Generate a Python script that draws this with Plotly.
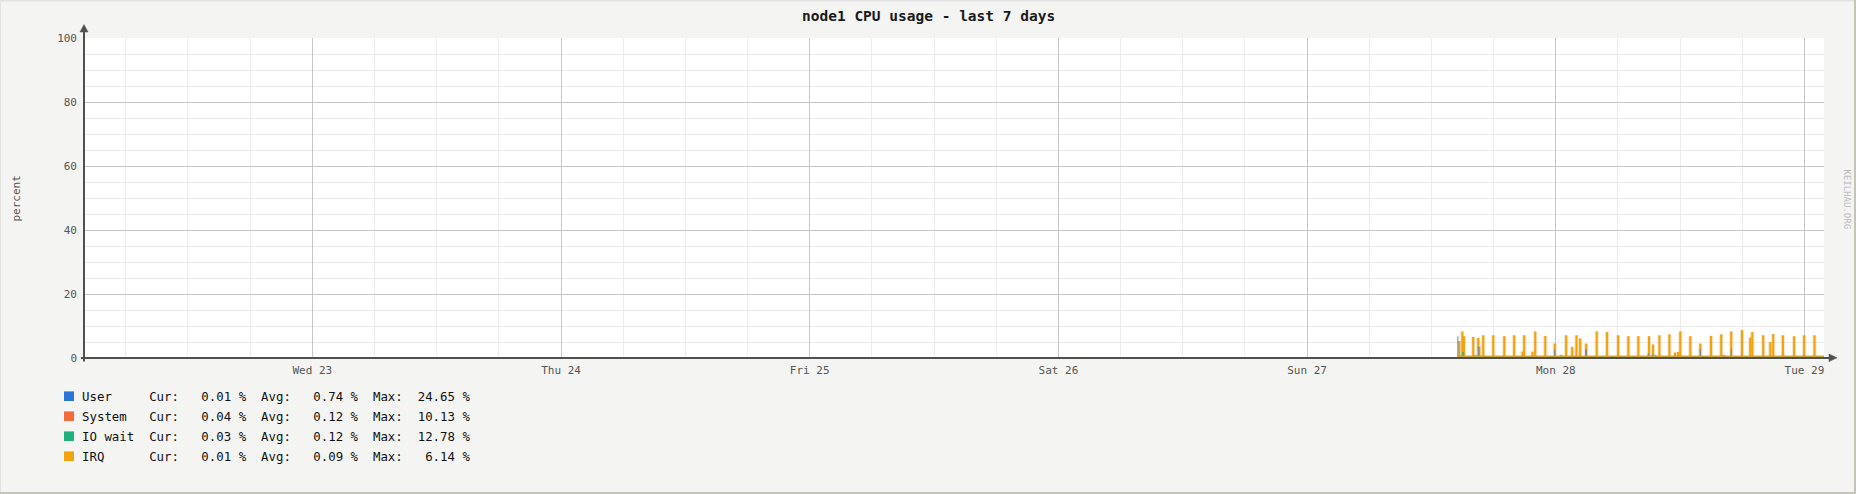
import plotly.graph_objects as go

# ---------------- data ----------------
irq_times = [
    "2024-10-27 14:41", "2024-10-27 14:59", "2024-10-27 15:08", "2024-10-27 16:02",
    "2024-10-27 16:14", "2024-10-27 16:31", "2024-10-27 16:37", "2024-10-27 17:00",
    "2024-10-27 17:58", "2024-10-27 19:02", "2024-10-27 19:59", "2024-10-27 20:47",
    "2024-10-27 20:57", "2024-10-27 21:45", "2024-10-27 22:01", "2024-10-27 22:59",
    "2024-10-27 23:54", "2024-10-28 00:31", "2024-10-28 01:00", "2024-10-28 01:35",
    "2024-10-28 02:00", "2024-10-28 02:21", "2024-10-28 02:56", "2024-10-28 03:57",
    "2024-10-28 04:57", "2024-10-28 06:01", "2024-10-28 07:00", "2024-10-28 07:58",
    "2024-10-28 09:00", "2024-10-28 09:23", "2024-10-28 09:35", "2024-10-28 10:00",
    "2024-10-28 10:58", "2024-10-28 11:30", "2024-10-28 11:48", "2024-10-28 12:01",
    "2024-10-28 12:59", "2024-10-28 13:57", "2024-10-28 14:59", "2024-10-28 15:58",
    "2024-10-28 16:12", "2024-10-28 16:56", "2024-10-28 17:58", "2024-10-28 18:46",
    "2024-10-28 18:58", "2024-10-28 20:01", "2024-10-28 20:42", "2024-10-28 20:59",
    "2024-10-28 21:55", "2024-10-28 23:00", "2024-10-28 23:58", "2024-10-29 00:58",
]
irq_values = [
    5.3, 8.3, 6.8, 6.6,
    1.0, 6.3, 3.5, 7.1,
    7.1, 6.8, 7.1, 2.0,
    7.1, 2.0, 8.3, 6.9,
    4.5, 1.0, 7.1, 3.5,
    7.1, 6.1, 4.5, 8.3,
    8.1, 7.1, 6.8, 6.8,
    6.8, 4.2, 1.0, 7.1,
    7.4, 1.7, 1.9, 8.3,
    6.8, 4.5, 6.9, 7.4,
    1.0, 8.3, 8.7, 6.4,
    8.1, 7.1, 5.0, 7.5,
    7.1, 6.8, 7.1, 7.1,
]

user_times = [
    "2024-10-27 14:33", "2024-10-27 16:34", "2024-10-27 23:54", "2024-10-28 02:56",
    "2024-10-28 08:55", "2024-10-28 09:19", "2024-10-28 13:57", "2024-10-28 16:56",
    "2024-10-28 23:58",
]
user_values = [6.8, 3.6, 2.6, 2.9, 1.4, 1.2, 2.8, 2.9, 1.0]

iowait_times = ["2024-10-27 15:04", "2024-10-28 02:57"]
iowait_values = [1.9, 1.0]

system_times = ["2024-10-28 02:55"]
system_values = [2.6]

base_times = ["2024-10-27 14:30", "2024-10-29 01:53"]
base_values = [0.6, 0.6]

x_range = ["2024-10-22 01:58", "2024-10-29 01:53"]

legend_names = ["User", "System", "IO wait", "IRQ"]
legend_cur = ["0.01", "0.04", "0.03", "0.01"]
legend_avg = ["0.74", "0.12", "0.12", "0.09"]
legend_max = ["24.65", "10.13", "12.78", "6.14"]
legend_colors = ["#2a76d8", "#f26a3a", "#20b07c", "#f2a20c"]

title_text = "node1 CPU usage - last 7 days"
y_title = "percent"
watermark = "KEILHAU.ORG"

# ---------------- geometry helpers ----------------
W, H = 1856, 494
L, R, T, B = 84, 32, 38, 136
PW, PH = W - L - R, H - T - B


def px(x):
    return (x - L) / PW


def py(y):
    return (H - B - y) / PH


MONO = "DejaVu Sans Mono"
BAR_W = 12 * 60 * 1000

fig = go.Figure()

fig.add_trace(go.Scatter(
    x=base_times, y=base_values, mode="lines", fill="tozeroy",
    line=dict(color="#b8a040", width=1), fillcolor="#e9b030",
    hoverinfo="skip", showlegend=False,
))
# soft halo under spikes
fig.add_trace(go.Bar(
    x=irq_times, y=irq_values, width=BAR_W * 2,
    marker=dict(color="rgba(230,200,140,0.45)", line=dict(width=0)),
    showlegend=False, hoverinfo="skip",
))
fig.add_trace(go.Bar(
    x=irq_times, y=irq_values, width=BAR_W,
    marker=dict(color=legend_colors[3], line=dict(width=0)),
    showlegend=False, name="IRQ",
))
fig.add_trace(go.Bar(
    x=system_times, y=system_values, width=BAR_W * 0.6,
    marker=dict(color=legend_colors[1], opacity=0.7, line=dict(width=0)),
    showlegend=False, name="System",
))
fig.add_trace(go.Bar(
    x=user_times, y=user_values, width=BAR_W * 0.6,
    marker=dict(color="rgba(90,130,190,0.75)", line=dict(width=0)),
    showlegend=False, name="User",
))
fig.add_trace(go.Bar(
    x=iowait_times, y=iowait_values, width=BAR_W * 0.6,
    marker=dict(color=legend_colors[2], opacity=0.7, line=dict(width=0)),
    showlegend=False, name="IO wait",
))

shapes = []
AX = "#505050"
# axis lines
shapes.append(dict(type="line", xref="paper", yref="paper",
                   x0=px(84), x1=px(84), y0=py(31), y1=py(361.5),
                   line=dict(color=AX, width=2)))
shapes.append(dict(type="line", xref="paper", yref="paper",
                   x0=px(81), x1=px(1830), y0=py(358), y1=py(358),
                   line=dict(color=AX, width=2)))
# arrows
shapes.append(dict(type="path", xref="paper", yref="paper",
                   path=f"M {px(80)},{py(32)} L {px(88)},{py(32)} L {px(84)},{py(24.5)} Z",
                   fillcolor=AX, line=dict(color=AX, width=0.5)))
shapes.append(dict(type="path", xref="paper", yref="paper",
                   path=f"M {px(1829)},{py(354)} L {px(1829)},{py(361.6)} L {px(1837)},{py(357.8)} Z",
                   fillcolor=AX, line=dict(color=AX, width=0.5)))
# frame (bevel)
shapes.append(dict(type="line", xref="paper", yref="paper",
                   x0=px(0), x1=px(W), y0=py(0.75), y1=py(0.75),
                   line=dict(color="#e2e2e2", width=1.5)))
shapes.append(dict(type="line", xref="paper", yref="paper",
                   x0=px(0.5), x1=px(0.5), y0=py(0), y1=py(H),
                   line=dict(color="#e2e2e2", width=1)))
shapes.append(dict(type="line", xref="paper", yref="paper",
                   x0=px(W - 1), x1=px(W - 1), y0=py(0), y1=py(H),
                   line=dict(color="#c4c4bc", width=2)))
shapes.append(dict(type="line", xref="paper", yref="paper",
                   x0=px(0), x1=px(W), y0=py(H - 1), y1=py(H - 1),
                   line=dict(color="#c4c4bc", width=2)))

annotations = []
annotations.append(dict(text=f"<b>{title_text}</b>", xref="paper", yref="paper",
                        x=px(928), y=py(16), xanchor="center", yanchor="middle",
                        showarrow=False, font=dict(family=MONO, size=14.5, color="#1a1a1a")))
annotations.append(dict(text=y_title, xref="paper", yref="paper",
                        x=px(15.5), y=py(199), xanchor="center", yanchor="middle",
                        textangle=-90, showarrow=False,
                        font=dict(family=MONO, size=11, color="#555555")))
annotations.append(dict(text=watermark, xref="paper", yref="paper",
                        x=px(1846.5), y=py(199), xanchor="center", yanchor="middle",
                        textangle=90, showarrow=False,
                        font=dict(family=MONO, size=9, color="#bbbbbb")))

NB = "\u00a0"
row_y = [396.2, 416.2, 436.2, 456.2]
for i, name in enumerate(legend_names):
    shapes.append(dict(type="rect", xref="paper", yref="paper",
                       x0=px(64), x1=px(74), y0=py(row_y[i] - 4.8), y1=py(row_y[i] + 4.8),
                       fillcolor=legend_colors[i], line=dict(width=0)))
    s = (f"{name:<9}Cur: {legend_cur[i]:>6} %  Avg: {legend_avg[i]:>6} %  "
         f"Max: {legend_max[i]:>6} %")
    annotations.append(dict(text=s.replace(" ", NB), xref="paper", yref="paper",
                            x=px(80), y=py(row_y[i]), xanchor="left", yanchor="middle",
                            showarrow=False,
                            font=dict(family=MONO, size=12.4, color="#111111")))

fig.update_layout(
    width=W, height=H,
    margin=dict(l=L, r=R, t=T, b=B, autoexpand=False),
    paper_bgcolor="#f4f4f2", plot_bgcolor="#ffffff",
    barmode="overlay", showlegend=False,
    shapes=shapes, annotations=annotations,
    xaxis=dict(
        type="date", range=x_range, tick0="2024-10-22", dtick=86400000,
        tickformat="%a %d", showgrid=True, gridcolor="#c6c6c6", gridwidth=1,
        minor=dict(dtick=6 * 3600000, showgrid=True, gridcolor="#ececec", gridwidth=1),
        zeroline=False, showline=False, ticks="", ticklabelstandoff=4,
        tickfont=dict(family=MONO, size=11, color="#555555"), fixedrange=True,
    ),
    yaxis=dict(
        range=[0, 100], dtick=20, tick0=0, showgrid=True, gridcolor="#c6c6c6", gridwidth=1,
        minor=dict(dtick=5, showgrid=True, gridcolor="#ececec", gridwidth=1),
        zeroline=False, showline=False, ticks="", ticklabelstandoff=6,
        tickfont=dict(family=MONO, size=11, color="#555555"), fixedrange=True,
    ),
)

fig.write_html(
    "out.html",
    config={"displayModeBar": False},
    post_script="document.body.style.margin='0';document.body.style.overflow='hidden';",
)
